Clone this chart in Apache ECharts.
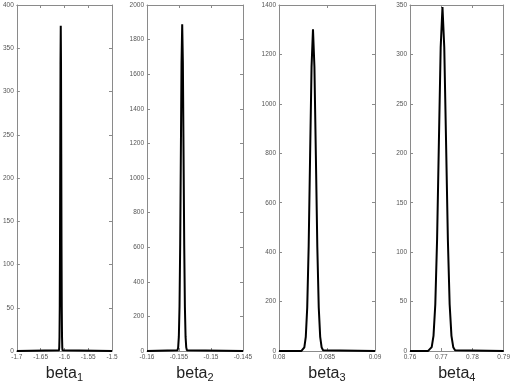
<!DOCTYPE html>
<html><head><meta charset="utf-8">
<script src="https://cdn.jsdelivr.net/npm/echarts@6/dist/echarts.min.js"></script>
<style>html,body{margin:0;padding:0;background:#fff}#c{width:513px;height:389px}</style>
</head><body><div id="c"></div>
<script>
// beta_1 density
const b1x = [-1.7, -1.61141, -1.61088, -1.61035, -1.60982, -1.60929, -1.60876, -1.60823, -1.6077, -1.60717, -1.60664, -1.60611, -1.60558, -1.60505, -1.60452, -1.60399, -1.5];
const b1y = [0, 0.8, 4.2, 16.5, 50.9, 122.1, 228.0, 331.8, 376, 331.8, 228.0, 122.1, 50.9, 16.5, 4.2, 0.8, 0];
// beta_2 density
const b2x = [-0.16, -0.155235, -0.15513, -0.155025, -0.15492, -0.154815, -0.15471, -0.154605, -0.1545, -0.154395, -0.15429, -0.154185, -0.15408, -0.153975, -0.15387, -0.153765, -0.145];
const b2y = [0, 4.2, 21.0, 82.9, 255.4, 613.0, 1145.1, 1666.2, 1888, 1666.2, 1145.1, 613.0, 255.4, 82.9, 21.0, 4.2, 0];
// beta_3 density
const b3x = [0.08, 0.08234, 0.08249, 0.08264, 0.08279, 0.08294, 0.08309, 0.08324, 0.08339, 0.08354, 0.08369, 0.08384, 0.08399, 0.08414, 0.08429, 0.08444, 0.08459, 0.08474, 0.09];
const b3y = [0, 0.4, 2.9, 14.5, 57.2, 176.2, 422.8, 789.7, 1149.0, 1302, 1149.0, 789.7, 422.8, 176.2, 57.2, 14.5, 2.9, 0.4, 0];
// beta_4 density
const b4x = [0.76, 0.7658, 0.766375, 0.76695, 0.767525, 0.7681, 0.768675, 0.76925, 0.769825, 0.7704, 0.770975, 0.77155, 0.772125, 0.7727, 0.773275, 0.77385, 0.774425, 0.775, 0.79];
const b4y = [0, 0.12, 0.77, 3.9, 15.3, 47.1, 113.0, 211.1, 307.1, 348, 307.1, 211.1, 113.0, 47.1, 15.3, 3.9, 0.77, 0.12, 0];

const xRanges = [[-1.7, -1.5, 0.05], [-0.16, -0.145, 0.005], [0.08, 0.09, 0.005], [0.76, 0.79, 0.01]];
const yRanges = [[0, 400, 50], [0, 2000, 200], [0, 1400, 200], [0, 350, 50]];
const names = ['1', '2', '3', '4'];
const xs = [b1x, b2x, b3x, b4x];
const ys = [b1y, b2y, b3y, b4y];

const lefts = [16, 147, 279, 410];
const FONT = 'Liberation Sans, Arial, sans-serif';
const axisCol = '#8a8a8a';
const lblCol = '#555';
const fmt = v => String(parseFloat(Number(v).toFixed(6)));

const grid = [], xAxis = [], yAxis = [], series = [];
for (let i = 0; i < 4; i++) {
  grid.push({left: lefts[i], top: 5, width: 96, height: 346, containLabel: false});
  const common = {
    axisLine: {show: true, onZero: false, lineStyle: {color: axisCol, width: 1}},
    axisTick: {show: true, inside: true, length: 3, lineStyle: {color: axisCol}},
    splitLine: {show: false}
  };
  xAxis.push(Object.assign({
    type: 'value', gridIndex: i, position: 'bottom',
    min: xRanges[i][0], max: xRanges[i][1], interval: xRanges[i][2],
    axisLabel: {fontSize: 6.5, color: lblCol, margin: 3, fontFamily: FONT, showMinLabel: true, showMaxLabel: true, formatter: fmt},
    name: '{a|beta}{b|' + names[i] + '}',
    nameLocation: 'middle', nameGap: 7,
    nameTextStyle: {rich: {
      a: {fontSize: 16, fontFamily: FONT, color: '#222', verticalAlign: 'top', lineHeight: 18},
      b: {fontSize: 11, fontFamily: FONT, color: '#222', verticalAlign: 'bottom', lineHeight: 11}
    }, lineHeight: 27}
  }, common));
  xAxis.push(Object.assign({
    type: 'value', gridIndex: i, position: 'top',
    min: xRanges[i][0], max: xRanges[i][1], interval: xRanges[i][2],
    axisLabel: {show: false}
  }, common));
  yAxis.push(Object.assign({
    type: 'value', gridIndex: i, position: 'left',
    min: yRanges[i][0], max: yRanges[i][1], interval: yRanges[i][2],
    axisLabel: {fontSize: 6.5, color: lblCol, margin: 3, fontFamily: FONT, formatter: fmt}
  }, common));
  yAxis.push(Object.assign({
    type: 'value', gridIndex: i, position: 'right',
    min: yRanges[i][0], max: yRanges[i][1], interval: yRanges[i][2],
    axisLabel: {show: false}
  }, common));
  series.push({
    type: 'line', xAxisIndex: 2 * i, yAxisIndex: 2 * i,
    data: xs[i].map((x, k) => [x, ys[i][k]]),
    showSymbol: false, symbol: 'none',
    lineStyle: {color: '#000', width: 2},
    clip: false
  });
}

const chart = echarts.init(document.getElementById('c'), null, {renderer: 'canvas'});
chart.setOption({animation: false, backgroundColor: '#fff', grid, xAxis, yAxis, series});
</script>
</body></html>
